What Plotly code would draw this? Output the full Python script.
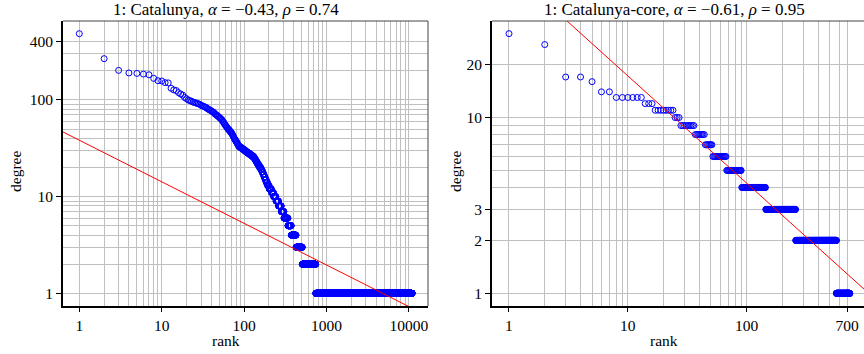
import numpy as np
import plotly.graph_objects as go

W, H = 864, 354

# ---------------- data: panel 1 (Catalunya) ----------------
cat_top_degrees = [484, 267, 202, 190, 188, 185, 182, 167, 158, 157, 151, 150, 132, 127, 125,
                   119, 115, 112, 106, 103, 100, 98, 97, 95, 94, 93, 92, 91, 90, 88, 87, 86,
                   85, 84, 83, 81, 80, 79, 78, 77, 76, 75, 74, 72, 71, 70, 69, 68, 67, 66, 65,
                   64, 63, 62, 60, 59, 58, 56, 55, 54, 53, 52, 51, 50, 49, 49, 48, 47, 46, 46,
                   45, 44, 43, 42, 41, 40, 39, 39, 38, 37, 37, 36, 35, 35, 34]
cat_tail_degree = [33, 32, 31, 30, 29, 28, 27, 26, 25, 24, 23, 22, 21, 20, 19, 18, 17, 16, 15,
                   14, 13, 12, 11, 10, 9, 8, 7, 6, 5, 4, 3, 2, 1]
cat_tail_count = [4, 5, 5, 5, 6, 7, 7, 7, 4, 4, 4, 5, 5, 6, 5, 5, 5, 5, 6,
                  7, 9, 13, 13, 16, 18, 21, 22, 36, 33, 53, 81, 233, 10160]
cat_alpha = -0.43
cat_fit_c = 38.3

# ---------------- data: panel 2 (Catalunya-core) ----------------
core_top_degrees = [30, 26, 17, 17, 16, 14, 14]
core_tail_degree = [13, 12, 11, 10, 9, 8, 7, 6, 5, 4, 3, 2, 1]
core_tail_count = [6, 3, 8, 3, 9, 8, 7, 16, 23, 54, 114, 311, 169]
core_alpha = -0.61
core_fit_c = 70.3

# ticks
p1_xticks = [1, 10, 100, 1000, 10000]
p1_yticks = [1, 10, 100, 400]
p2_xticks = [1, 10, 100, 700]
p2_yticks = [1, 2, 3, 10, 20]

titles = ["1: Catalunya, <i>α</i> = −0.43, <i>ρ</i> = 0.74",
          "1: Catalunya-core, <i>α</i> = −0.61, <i>ρ</i> = 0.95"]


def expand(top, deg, cnt):
    d = list(top)
    for v, c in zip(deg, cnt):
        d += [v] * c
    d = np.array(d, dtype=float)
    r = np.arange(1, len(d) + 1)
    return r, d


r1, d1 = expand(cat_top_degrees, cat_tail_degree, cat_tail_count)
r2, d2 = expand(core_top_degrees, core_tail_degree, core_tail_count)


def decade_grid(maxv):
    out = []
    k = 1
    while k <= maxv:
        for m in range(1, 10):
            if m * k <= maxv:
                out.append(m * k)
        k *= 10
    return out


p1_xgrid = decade_grid(10000)
p1_ygrid = decade_grid(400)
p2_xgrid = decade_grid(700)
p2_ygrid = decade_grid(20)

GRID = "#c0c0c0"
BLUE = "#0000ff"
RED = "#ff0000"


def px(x):
    return x / W


def py(y):
    return 1 - y / H


fig = go.Figure()
mk = dict(symbol="circle-open", size=6, color=BLUE, line=dict(width=1, color=BLUE))
fig.add_trace(go.Scatter(x=r1, y=d1, mode="markers", marker=mk, xaxis="x", yaxis="y"))
fx1 = np.array([0.5, r1[-1]])
fig.add_trace(go.Scatter(x=fx1, y=cat_fit_c * fx1 ** cat_alpha, mode="lines",
                         line=dict(color=RED, width=1), xaxis="x", yaxis="y"))
fig.add_trace(go.Scatter(x=r2, y=d2, mode="markers", marker=mk, xaxis="x2", yaxis="y2"))
fx2 = np.array([0.5, 2000])
fig.add_trace(go.Scatter(x=fx2, y=core_fit_c * fx2 ** core_alpha, mode="lines",
                         line=dict(color=RED, width=1), xaxis="x2", yaxis="y2"))


def axis(domain, rng, ticks, grid, anchor, tlen):
    return dict(type="log", domain=domain, range=rng, anchor=anchor,
                tickmode="array", tickvals=ticks, ticktext=[str(t) for t in ticks],
                showgrid=True, gridcolor=GRID, gridwidth=1,
                minor=dict(tickmode="array", tickvals=grid, showgrid=True,
                           gridcolor=GRID, gridwidth=1, ticks=""),
                showline=True, linecolor="black", linewidth=2,
                ticks="outside", ticklen=tlen, tickcolor="black", tickwidth=1,
                zeroline=False, tickfont=dict(size=15.5))


fig.update_layout(
    width=W, height=H, margin=dict(l=0, r=0, t=0, b=0),
    paper_bgcolor="white", plot_bgcolor="white", showlegend=False,
    font=dict(family="Liberation Serif", size=15, color="black"),
    xaxis=axis([px(63), px(428)], [-0.198, 4.232], p1_xticks, p1_xgrid, "y", 4),
    yaxis=axis([py(306), py(21)], [-0.131, 2.816], p1_yticks, p1_ygrid, "x", 5),
    xaxis2=axis([px(492), 1.0], [-0.143, 2.988], p2_xticks, p2_xgrid, "y2", 4),
    yaxis2=axis([py(306), py(21)], [-0.072, 1.549], p2_yticks, p2_ygrid, "x2", 5),
)

shapes = [
    dict(type="line", xref="x domain", yref="y domain", x0=0, x1=1, y0=1, y1=1,
         line=dict(color="#444444", width=1)),
    dict(type="line", xref="x domain", yref="y domain", x0=1, x1=1, y0=0, y1=1,
         line=dict(color="#444444", width=1)),
    dict(type="line", xref="x2 domain", yref="y2 domain", x0=0, x1=1, y0=1, y1=1,
         line=dict(color="#444444", width=1)),
]
fig.update_layout(shapes=shapes)

ann = []
for xc, t in zip([226, 674], titles):
    ann.append(dict(text=t, x=px(xc), y=py(10), xref="paper", yref="paper",
                    showarrow=False, xanchor="center", yanchor="middle", font=dict(size=17)))
for xc in [226, 664]:
    ann.append(dict(text="rank", x=px(xc), y=py(340), xref="paper", yref="paper",
                    showarrow=False, xanchor="center", yanchor="middle", font=dict(size=15.5)))
for xc in [15, 455]:
    ann.append(dict(text="degree", x=px(xc), y=py(172), xref="paper", yref="paper",
                    showarrow=False, xanchor="center", yanchor="middle", textangle=-90,
                    font=dict(size=15.5)))
fig.update_layout(annotations=ann)

fig.write_html("out.html")
